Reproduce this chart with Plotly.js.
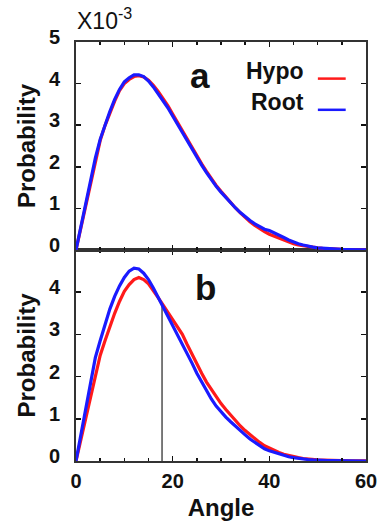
<!DOCTYPE html>
<html>
<head>
<meta charset="utf-8">
<script src="https://cdn.plot.ly/plotly-3.0.1.min.js"></script>
<style>html,body{margin:0;padding:0;background:#fff;}#chart{width:382px;height:521px;}</style>
</head>
<body>
<div id="chart"></div>
<script>
// Angle (degrees)
const angle = [0,1,2,3,4,5,6,7,8,9,10,11,12,13,14,15,16,17,18,19,20,21,22,23,24,25,26,27,28,29,30,31,32,33,34,35,36,37,38,39,40,41,42,43,44,45,46,47,48,49,50,51,52,53,54,55,56,57,58,59,60];

// Panel a (probability x 1e-3)
const hypoA = [0,0.54,1.06,1.64,2.18,2.63,2.99,3.3,3.58,3.83,4.0,4.1,4.17,4.19,4.16,4.08,3.96,3.81,3.65,3.47,3.27,3.07,2.86,2.65,2.45,2.26,2.07,1.89,1.71,1.55,1.41,1.27,1.14,1.01,0.89,0.78,0.68,0.59,0.51,0.44,0.38,0.33,0.28,0.23,0.19,0.15,0.12,0.1,0.08,0.06,0.05,0.04,0.03,0.025,0.02,0.015,0.012,0.01,0.008,0.006,0.005];
const rootA = [0,0.56,1.08,1.67,2.21,2.66,3.02,3.33,3.62,3.86,4.04,4.14,4.21,4.21,4.17,4.06,3.92,3.76,3.6,3.42,3.22,3.02,2.81,2.61,2.41,2.22,2.04,1.86,1.69,1.53,1.39,1.26,1.13,1.01,0.9,0.8,0.71,0.63,0.56,0.5,0.47,0.42,0.36,0.3,0.24,0.19,0.15,0.12,0.09,0.07,0.05,0.04,0.03,0.025,0.02,0.015,0.012,0.01,0.008,0.006,0.005];

// Panel b (probability x 1e-3)
const hypoB = [0,0.5,1.0,1.55,2.05,2.5,2.85,3.2,3.5,3.78,4.02,4.18,4.3,4.35,4.3,4.2,4.05,3.87,3.7,3.52,3.35,3.19,3.0,2.76,2.52,2.3,2.08,1.87,1.69,1.52,1.36,1.22,1.08,0.95,0.83,0.72,0.62,0.52,0.44,0.36,0.3,0.25,0.2,0.16,0.13,0.1,0.08,0.06,0.045,0.035,0.025,0.02,0.015,0.012,0.01,0.008,0.006,0.005,0.004,0.003,0.002];
const rootB = [0,0.6,1.2,1.85,2.45,2.85,3.25,3.6,3.9,4.15,4.35,4.5,4.57,4.55,4.45,4.3,4.1,3.88,3.68,3.45,3.22,3.02,2.8,2.56,2.32,2.08,1.88,1.66,1.47,1.3,1.16,1.04,0.93,0.82,0.71,0.62,0.52,0.44,0.36,0.29,0.24,0.2,0.16,0.13,0.1,0.08,0.06,0.045,0.035,0.025,0.015,0.012,0.01,0.008,0.006,0.005,0.004,0.003,0.002,0.001,0];

// Marker line in panel b
const markerAngle = [17.8, 17.8];
const markerProb = [0, 3.73];

const yTicksA = [0,1,2,3,4,5];
const yTicksB = [0,1,2,3,4];
const xTicks = [0,20,40,60];
const bold = v => '<b>' + v + '</b>';

const RED = '#ff1a1a', BLUE = '#1a1aff';
const FONT = 'Liberation Sans, Arial, sans-serif';
const tickFont = {family: FONT, size: 20, color: '#111'};

const traces = [
  {x: angle, y: hypoA, xaxis: 'x2', yaxis: 'y2', mode: 'lines', line: {color: RED, width: 3.2}, name: 'Hypo'},
  {x: angle, y: rootA, xaxis: 'x2', yaxis: 'y2', mode: 'lines', line: {color: BLUE, width: 3.2}, name: 'Root'},
  {x: markerAngle, y: markerProb, xaxis: 'x', yaxis: 'y', mode: 'lines', line: {color: '#222', width: 1.2}},
  {x: angle, y: hypoB, xaxis: 'x', yaxis: 'y', mode: 'lines', line: {color: RED, width: 3.2}, name: 'Hypo'},
  {x: angle, y: rootB, xaxis: 'x', yaxis: 'y', mode: 'lines', line: {color: BLUE, width: 3.2}, name: 'Root'}
];

const xCommon = {
  range: [0, 60], tickmode: 'array', tickvals: xTicks, ticktext: xTicks.map(bold),
  ticks: 'inside', ticklen: 5, tickwidth: 1.5, tickcolor: '#111',
  minor: {tickmode: 'linear', tick0: 0, dtick: 5, ticks: 'inside', ticklen: 3, tickwidth: 1.5, tickcolor: '#111'},
  showline: true, linecolor: '#333', linewidth: 2, mirror: 'allticks', showgrid: false, zeroline: false,
  tickfont: tickFont
};
const yCommon = {
  range: [0, 5], ticks: 'inside', ticklen: 5, tickwidth: 1.5, tickcolor: '#111',
  showline: true, linecolor: '#333', linewidth: 2, mirror: 'allticks', showgrid: false, zeroline: false,
  tickfont: tickFont, tickmode: 'array', ticklabelshift: -5, ticklabelstandoff: 10
};
const titleFont = {family: FONT, size: 24, color: '#111', weight: 700};

const layout = {
  width: 382, height: 521,
  margin: {l: 76, r: 16, t: 42, b: 60},
  paper_bgcolor: '#fff', plot_bgcolor: '#fff',
  showlegend: false,
  xaxis: Object.assign({}, xCommon, {anchor: 'y', domain: [0, 1], ticklabelstandoff: 1,
    title: {text: 'Angle', font: titleFont, standoff: 9}}),
  xaxis2: Object.assign({}, xCommon, {anchor: 'y2', matches: 'x', showticklabels: false}),
  yaxis: Object.assign({}, yCommon, {anchor: 'x', domain: [0, 0.5036], tickvals: yTicksB, ticktext: yTicksB.map(bold),
    title: {text: 'Probability', font: titleFont, standoff: 6}}),
  yaxis2: Object.assign({}, yCommon, {anchor: 'x2', domain: [0.5036, 1], tickvals: yTicksA, ticktext: yTicksA.map(bold),
    title: {text: 'Probability', font: titleFont, standoff: 6}}),
  annotations: [
    {xref: 'paper', yref: 'paper', x: -0.005, y: 1.0, xanchor: 'left', yanchor: 'bottom', yshift: 6, showarrow: false,
     text: 'X10<sup>-3</sup>', font: {family: FONT, size: 23, color: '#111'}},
    {xref: 'x2', yref: 'y2', x: 25.6, y: 4.2, showarrow: false, text: '<b>a</b>', font: {family: FONT, size: 35, color: '#111'}},
    {xref: 'x', yref: 'y', x: 26.8, y: 4.1, showarrow: false, text: '<b>b</b>', font: {family: FONT, size: 35, color: '#111'}},
    {xref: 'paper', yref: 'y2', x: 0.793, y: 4.3, xanchor: 'right', showarrow: false, text: '<b>Hypo</b>', font: {family: FONT, size: 23, color: '#111'}},
    {xref: 'paper', yref: 'y2', x: 0.793, y: 3.55, xanchor: 'right', showarrow: false, text: '<b>Root</b>', font: {family: FONT, size: 23, color: '#111'}}
  ],
  shapes: [
    {type: 'line', xref: 'paper', yref: 'y2', x0: 0.834, x1: 0.93, y0: 4.12, y1: 4.12, line: {color: RED, width: 2.5}},
    {type: 'line', xref: 'paper', yref: 'y2', x0: 0.834, x1: 0.93, y0: 3.37, y1: 3.37, line: {color: BLUE, width: 2.5}}
  ]
};

Plotly.newPlot('chart', traces, layout, {displayModeBar: false, staticPlot: true});
</script>
</body>
</html>
